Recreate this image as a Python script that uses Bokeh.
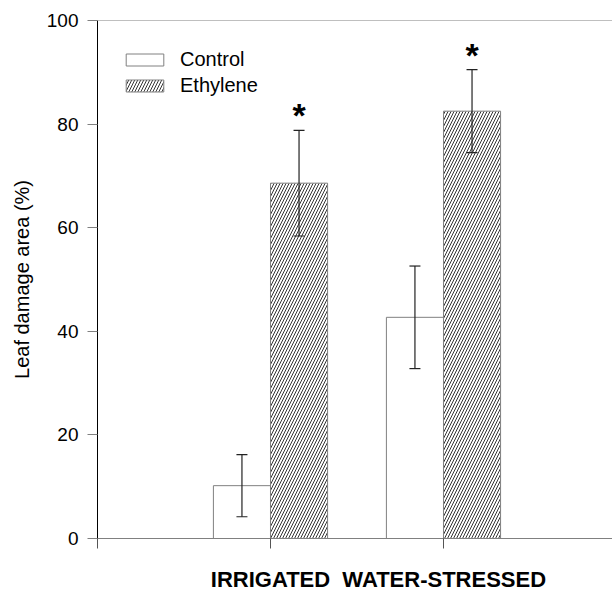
import json
from bokeh.plotting import figure
from bokeh.models import (ColumnDataSource, Whisker, TeeHead, Span, LinearAxis, FixedTicker,
                          Legend, LegendItem, Range1d, CustomJSTickFormatter)
from bokeh.core.properties import value
from bokeh.embed import file_html
from bokeh.resources import INLINE

# ---- data ----
groups = ["IRRIGATED", "WATER-STRESSED"]
group_pos = [1, 2]
control = [10.2, 42.7]
control_err = [6.0, 9.9]
ethylene = [68.6, 82.5]
ethylene_err = [10.2, 8.0]
sig = ["*", "*"]
y_ticks = [0, 20, 40, 60, 80, 100]
x_ticks = [0, 1, 2]
series_names = ["Control", "Ethylene"]

bar_w = 0.33
x_end = 2.977
y_end = 100
caption_x = 1.624
FONT = "Liberation Sans"

ctrl_src = ColumnDataSource(dict(
    x=[g - bar_w / 2 for g in group_pos], top=control,
    upper=[v + e for v, e in zip(control, control_err)],
    lower=[v - e for v, e in zip(control, control_err)]))
eth_src = ColumnDataSource(dict(
    x=[g + bar_w / 2 for g in group_pos], top=ethylene,
    upper=[v + e for v, e in zip(ethylene, ethylene_err)],
    lower=[v - e for v, e in zip(ethylene, ethylene_err)],
    sig=sig))

p = figure(width=612, height=594, output_backend="svg", toolbar_location=None,
           x_range=Range1d(0, x_end), y_range=Range1d(0, y_end),
           min_border_left=97, min_border_top=20, min_border_bottom=56, min_border_right=0)
p.grid.visible = False
p.outline_line_color = None
p.background_fill_color = "white"

r_ctrl = p.vbar(x="x", top="top", width=bar_w, bottom=0, source=ctrl_src,
                fill_color="white", line_color="#808080", line_width=1)
r_eth = p.vbar(x="x", top="top", width=bar_w, bottom=0, source=eth_src,
               fill_color="white", line_color="#808080", line_width=1,
               hatch_pattern="/", hatch_scale=6, hatch_weight=1, hatch_color="#333333")

for src in (ctrl_src, eth_src):
    w = Whisker(base="x", upper="upper", lower="lower", source=src,
                line_color="#222222", line_width=1.2, level="overlay",
                upper_head=TeeHead(size=11, line_color="#222222", line_width=1.2),
                lower_head=TeeHead(size=11, line_color="#222222", line_width=1.2))
    p.add_layout(w)

p.text(x="x", y="upper", text="sig", source=eth_src,
       text_font=value(FONT), text_font_style="bold", text_font_size="34px",
       text_align="center", text_baseline="alphabetic", y_offset=-15, text_color="black")

p.add_layout(Span(location=y_end, dimension="width", line_color="#808080", line_width=1))

# y axis
ya = p.yaxis[0]
ya.ticker = FixedTicker(ticks=y_ticks)
ya.major_tick_out = 10
ya.major_tick_in = 0
ya.minor_tick_out = 0
ya.minor_tick_in = 0
ya.major_tick_line_color = "#808080"
ya.axis_line_color = "black"
ya.major_label_text_font = FONT
ya.major_label_text_font_size = "19px"
ya.major_label_text_color = "black"
ya.major_label_standoff = 9
ya.axis_label = "Leaf damage area (%)"
ya.axis_label_text_font = FONT
ya.axis_label_text_font_style = "normal"
ya.axis_label_text_font_size = "20px"
ya.axis_label_text_color = "black"
ya.axis_label_standoff = 11

# x axis (ticks only)
xa = p.xaxis[0]
xa.ticker = FixedTicker(ticks=x_ticks)
xa.formatter = CustomJSTickFormatter(code="return ''")
xa.major_tick_out = 10
xa.major_tick_in = 0
xa.minor_tick_out = 0
xa.minor_tick_in = 0
xa.major_tick_line_color = "#555555"
xa.axis_line_color = "#808080"
xa.major_label_text_font_size = "1px"
xa.major_label_standoff = 0

# caption axis below the tick axis
caption = "\u00a0\u00a0".join(groups)
cap_axis = LinearAxis(ticker=FixedTicker(ticks=[caption_x]),
                      formatter=CustomJSTickFormatter(code="return " + json.dumps(caption)))
cap_axis.axis_line_color = None
cap_axis.major_tick_line_color = None
cap_axis.minor_tick_line_color = None
cap_axis.major_tick_out = 0
cap_axis.major_tick_in = 0
cap_axis.minor_tick_out = 0
cap_axis.minor_tick_in = 0
cap_axis.major_label_standoff = 18
cap_axis.major_label_text_font = FONT
cap_axis.major_label_text_font_size = "22px"
cap_axis.major_label_text_font_style = "bold"
cap_axis.major_label_text_color = "black"
p.add_layout(cap_axis, "below")

legend = Legend(items=[LegendItem(label=series_names[0], renderers=[r_ctrl]),
                       LegendItem(label=series_names[1], renderers=[r_eth])],
                location=(24, 441), glyph_width=47, glyph_height=15, label_height=15,
                spacing=3, padding=0, margin=0, border_line_color=None,
                background_fill_alpha=0, label_text_font=FONT, label_text_font_size="20px",
                label_standoff=12, label_text_color="black")
p.add_layout(legend)

open("out.html", "w").write(file_html(p, INLINE))
